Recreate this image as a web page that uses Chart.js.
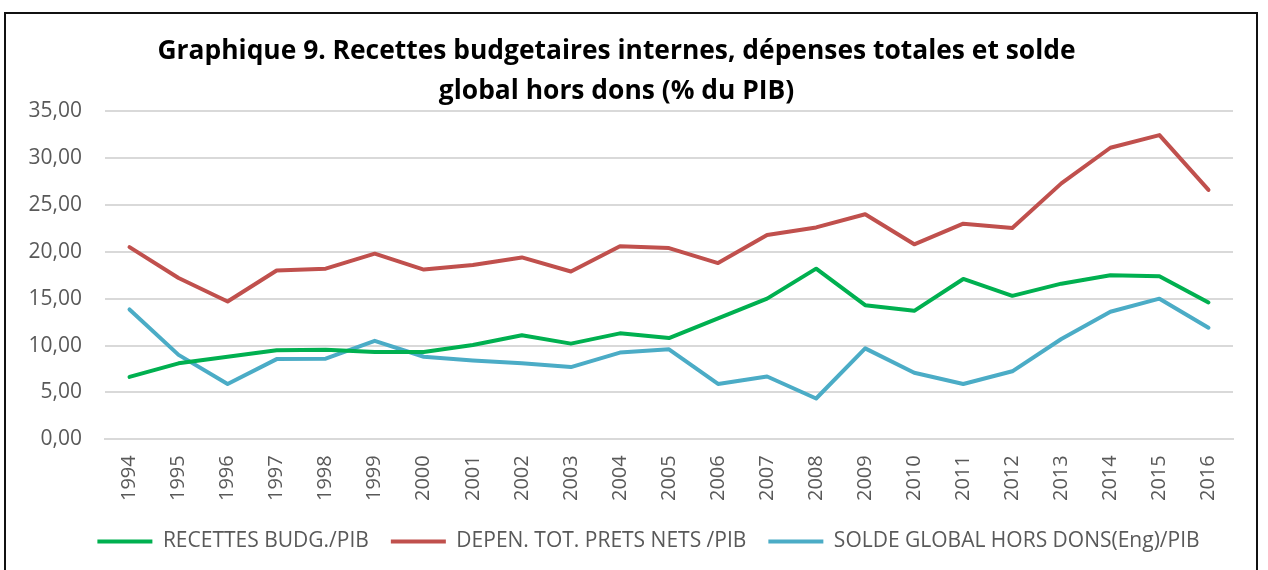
<!DOCTYPE html>
<html>
<head>
<meta charset="utf-8">
<script src="https://cdn.jsdelivr.net/npm/chart.js@4/dist/chart.umd.min.js"></script>
<style>
  body { margin: 0; background: #fff; }
  #myChart { position: absolute; left: 0; top: 0; }
  .frame { position: absolute; left: 4px; top: 12px; width: 1254px; height: 600px; border: 2px solid #111; box-sizing: border-box; pointer-events: none; }
</style>
</head>
<body>
<canvas id="myChart" width="1268" height="570"></canvas>
<div class="frame"></div>
<script>
const years = ['1994', '1995', '1996', '1997', '1998', '1999', '2000', '2001', '2002', '2003', '2004', '2005',
  '2006', '2007', '2008', '2009', '2010', '2011', '2012', '2013', '2014', '2015', '2016'];
const recettes = [6.65, 8.1, 8.8, 9.5, 9.55, 9.3, 9.3, 10.05, 11.1, 10.2, 11.3, 10.8,
  12.9, 15.0, 18.2, 14.3, 13.7, 17.1, 15.3, 16.6, 17.5, 17.4, 14.6];
const depenses = [20.5, 17.2, 14.7, 18.0, 18.2, 19.8, 18.1, 18.6, 19.4, 17.9, 20.6, 20.4,
  18.8, 21.8, 22.6, 24.0, 20.8, 23.0, 22.55, 27.3, 31.1, 32.45, 26.6];
const solde = [13.85, 9.0, 5.9, 8.55, 8.6, 10.5, 8.8, 8.4, 8.1, 7.7, 9.25, 9.6,
  5.9, 6.7, 4.35, 9.7, 7.1, 5.9, 7.25, 10.7, 13.6, 15.0, 11.9];
const titleLines = ['Graphique 9. Recettes budgetaires internes, dépenses totales et solde',
  'global hors dons (% du PIB)'];

const grey = '#595959';
const font = "'Open Sans', sans-serif";

function line(label, values, color) {
  return {
    label,
    data: values,
    borderColor: color,
    backgroundColor: color,
    borderWidth: 4,
    borderCapStyle: 'round',
    borderJoinStyle: 'round',
    pointRadius: 0,
    tension: 0,
  };
}

const data = {
  labels: years,
  datasets: [
    line('RECETTES BUDG./PIB', recettes, '#00B050'),
    line('DEPEN. TOT. PRETS NETS /PIB', depenses, '#C0504D'),
    line('SOLDE GLOBAL HORS DONS(Eng)/PIB', solde, '#4BACC6'),
  ],
};

// legend sits a bit right of the canvas centre in the original, and a bit higher
const shiftLegend = {
  id: 'shiftLegend',
  afterLayout(chart) {
    chart.legend.left += 32;
    chart.legend.right += 32;
    chart.legend.top -= 8;
    chart.legend.bottom -= 8;
  },
};

const config = {
  type: 'line',
  data,
  plugins: [shiftLegend],
  options: {
    responsive: false,
    animation: false,
    layout: { padding: { left: 0, right: 35, top: 0, bottom: 0 } },
    plugins: {
      title: {
        display: true,
        text: titleLines,
        color: '#000',
        font: { family: font, size: 26.4, weight: 'bold', lineHeight: 1.5 },
        padding: { top: 32, bottom: 0 },
      },
      legend: {
        position: 'bottom',
        labels: {
          usePointStyle: true,
          pointStyle: 'line',
          pointStyleWidth: 55,
          color: grey,
          padding: 22,
          font: { family: font, size: 21 },
        },
      },
      tooltip: { enabled: false },
    },
    scales: {
      x: {
        offset: true,
        grid: { display: false, drawTicks: false },
        border: { color: '#d9d9d9', width: 2 },
        ticks: { color: grey, font: { family: font, size: 20 }, minRotation: 90, maxRotation: 90, padding: 16 },
      },
      y: {
        min: 0,
        max: 35,
        afterFit: (scale) => { scale.width = 105; },
        grid: { color: '#d9d9d9', lineWidth: 2, drawTicks: false },
        border: { display: false },
        ticks: {
          stepSize: 5,
          color: grey,
          padding: 23,
          font: { family: font, size: 21 },
          callback: (v) => v.toFixed(2).replace('.', ','),
        },
      },
    },
  },
};

new Chart(document.getElementById('myChart'), config);
</script>
</body>
</html>
